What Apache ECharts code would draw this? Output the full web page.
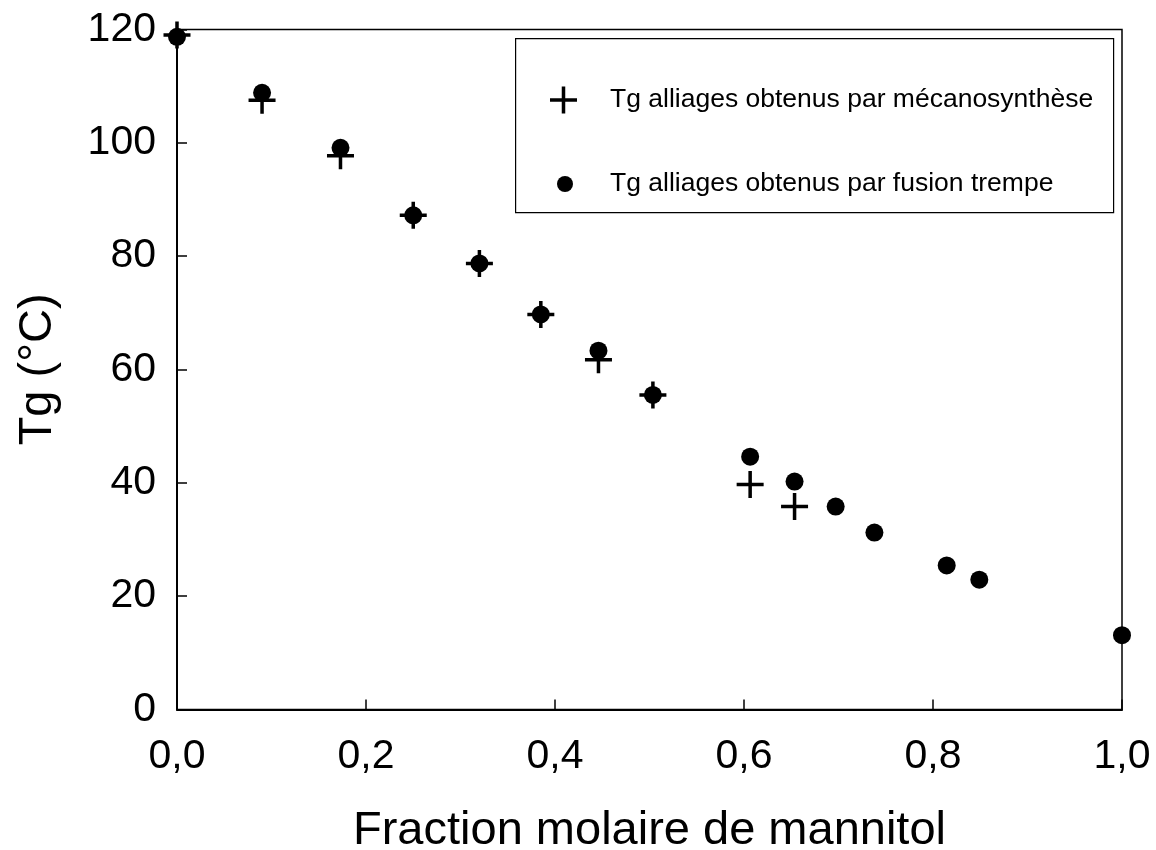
<!DOCTYPE html>
<html>
<head>
<meta charset="utf-8">
<script src="https://cdn.jsdelivr.net/npm/echarts@6/dist/echarts.min.js"></script>
<style>
html,body{margin:0;padding:0;background:#fff;}
#chart{width:1156px;height:850px;}
</style>
</head>
<body>
<div id="chart"></div>
<script>
// ---- data ----
var mecaName = 'Tg alliages obtenus par mécanosynthèse';
var fusionName = 'Tg alliages obtenus par fusion trempe';
var mecaX = [0, 0.09, 0.173, 0.250, 0.320, 0.385, 0.446, 0.5036, 0.6065, 0.6535];
var mecaY = [119.0, 107.5, 97.7, 87.2, 78.7, 69.7, 61.7, 55.5, 39.7, 35.8];
var fusionX = [0, 0.09, 0.173, 0.250, 0.320, 0.385, 0.446, 0.5036, 0.6065, 0.6535, 0.697, 0.738, 0.8145, 0.849, 1.0];
var fusionY = [118.7, 108.8, 99.1, 87.2, 78.7, 69.7, 63.3, 55.5, 44.6, 40.2, 35.8, 31.2, 25.4, 22.9, 13.1];
var xTicks = [0, 0.2, 0.4, 0.6, 0.8, 1.0];
var yTicks = [0, 20, 40, 60, 80, 100, 120];
var xTitle = 'Fraction molaire de mannitol';
var yTitle = 'Tg (°C)';

function pairs(xs, ys) { return xs.map(function (x, i) { return [x, ys[i]]; }); }

var FONT = '"Liberation Sans", Arial, sans-serif';
var PLUS = 'path://M0,43.5H100V56.5H0Z M43.5,0H56.5V100H43.5Z';

var chart = echarts.init(document.getElementById('chart'), null, {renderer: 'canvas'});
var option = {
  backgroundColor: '#ffffff',
  animation: false,
  grid: {
    left: 177, right: 34, top: 29.4, bottom: 140.6,
    containLabel: false, outerBoundsMode: 'none',
    show: true, borderColor: '#000', borderWidth: 1.5, backgroundColor: 'transparent'
  },
  xAxis: {
    type: 'value', min: xTicks[0], max: xTicks[xTicks.length - 1], interval: 0.2,
    axisLine: {show: true, onZero: false, lineStyle: {color: '#000', width: 2}},
    axisTick: {show: true, inside: true, length: 10, lineStyle: {color: '#000', width: 1.5}},
    splitLine: {show: false},
    axisLabel: {
      color: '#000', fontSize: 41, fontFamily: FONT, margin: 27,
      formatter: function (v) { return v.toFixed(1).replace('.', ','); }
    },
    name: xTitle, nameLocation: 'middle', nameGap: 98,
    nameTextStyle: {color: '#000', fontSize: 47, fontFamily: FONT}
  },
  yAxis: {
    type: 'value', min: yTicks[0], max: yTicks[yTicks.length - 1], interval: 20,
    axisLine: {show: true, onZero: false, lineStyle: {color: '#000', width: 2}},
    axisTick: {show: true, inside: true, length: 10, lineStyle: {color: '#000', width: 1.5}},
    splitLine: {show: false},
    axisLabel: {color: '#000', fontSize: 41, fontFamily: FONT, margin: 21},
    name: yTitle, nameLocation: 'middle', nameGap: 115, nameRotate: 90,
    nameTextStyle: {color: '#000', fontSize: 47, fontFamily: FONT}
  },
  legend: [
    {
      data: [{name: mecaName, icon: PLUS}],
      orient: 'vertical', left: 550, top: 86.5, padding: 0,
      itemWidth: 27, itemHeight: 27,
      itemStyle: {color: '#000', opacity: 1},
      textStyle: {color: '#000', fontSize: 26.5, fontFamily: FONT, padding: [0, 0, 0, 28]},
      selectedMode: false
    },
    {
      data: [{name: fusionName, icon: 'circle'}],
      orient: 'vertical', left: 557, top: 170.5, padding: 0,
      itemWidth: 16, itemHeight: 16,
      itemStyle: {color: '#000', opacity: 1},
      textStyle: {color: '#000', fontSize: 26.5, fontFamily: FONT, padding: [0, 0, 0, 32]},
      selectedMode: false
    }
  ],
  graphic: [{
    type: 'rect', left: 515, top: 38, z: 0,
    shape: {width: 598, height: 174},
    style: {fill: '#fff', stroke: '#000', lineWidth: 1.2}
  }],
  series: [
    {
      name: fusionName, type: 'scatter', clip: false,
      symbol: 'circle', symbolSize: 18,
      itemStyle: {color: '#000', opacity: 1},
      data: pairs(fusionX, fusionY), z: 3
    },
    {
      name: mecaName, type: 'scatter', clip: false,
      symbol: PLUS, symbolSize: 27,
      itemStyle: {color: '#000', opacity: 1},
      data: pairs(mecaX, mecaY), z: 4
    }
  ]
};
chart.setOption(option);
</script>
</body>
</html>
